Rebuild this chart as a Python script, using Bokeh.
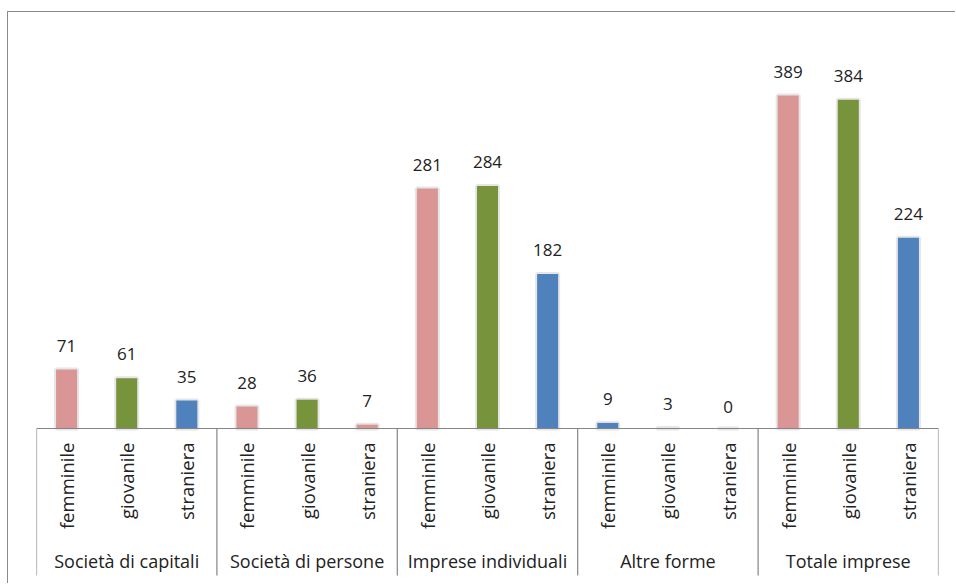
import math
from bokeh.plotting import figure
from bokeh.models import FactorRange, Range1d, Span, ColumnDataSource
from bokeh.core.properties import value
from bokeh.embed import file_html
from bokeh.resources import INLINE

# ---- data ----
groups = ["Società di capitali", "Società di persone", "Imprese individuali", "Altre forme", "Totale imprese"]
subs = ["femminile", "giovanile", "straniera"]
values_femminile = [71, 28, 281, 9, 389]
values_giovanile = [61, 36, 284, 3, 384]
values_straniera = [35, 7, 182, 0, 224]
bar_colors = [
    "#D99694", "#77933C", "#4F81BD",
    "#D99694", "#77933C", "#D99694",
    "#D99694", "#77933C", "#4F81BD",
    "#4F81BD", "#77933C", "#4F81BD",
    "#D99694", "#77933C", "#4F81BD",
]

# value axis (hidden): baseline value and pixel scale
Y0 = 2.55
K = 0.8616  # px per unit

factors = [(g, s) for g in groups for s in subs]
vals = []
for i in range(len(groups)):
    vals += [values_femminile[i], values_giovanile[i], values_straniera[i]]
tops = [max(v, Y0) for v in vals]

src = ColumnDataSource(dict(x=factors, v=vals, top=tops, color=bar_colors,
                            lab=[str(v) for v in vals], sub=[f[1] for f in factors]))

W, H = 948, 572
frame_top_px = 12
frame_bot_px = 584
base_px = 428
y_start = Y0 - (frame_bot_px - base_px) / K
y_end = Y0 + (base_px - frame_top_px) / K

p = figure(x_range=FactorRange(*factors, group_padding=0, factor_padding=0, range_padding=0),
           y_range=Range1d(y_start, y_end),
           width=W, height=H, output_backend="svg", toolbar_location=None,
           min_border_left=28, min_border_right=18, min_border_top=0, min_border_bottom=0)
p.styles = {"margin-left": "7px", "margin-top": "11px",
            "border-left": "1px solid #8a8a8a", "border-top": "1px solid #8a8a8a"}
p.axis.visible = False
p.grid.visible = False
p.outline_line_color = None
p.background_fill_color = "white"
p.border_fill_color = "white"

BW = 0.35
# soft shadow
p.vbar(x="x", top="top", bottom=Y0, width=BW, source=src, fill_color=None,
       line_color="#e6e6e6", line_width=4)
p.vbar(x="x", top="top", bottom=Y0, width=BW, source=src, fill_color="color",
       line_color=None)

# data labels
p.text(x="x", y="v", text="lab", source=src, text_align="center", text_baseline="middle",
       y_offset=-24, text_font=value("Open Sans"), text_font_size="17px", text_color="#222222")

# axis line
p.add_layout(Span(location=Y0, dimension="width", line_color="#858585", line_width=1.2))

# group separators
n = len(subs)
bounds = [n * i for i in range(len(groups) + 1)]
p.segment(x0=bounds, x1=bounds, y0=[Y0] * len(bounds), y1=[Y0 - 147 / K] * len(bounds),
          line_color="#858585", line_width=1.2)

# subcategory labels (vertical)
p.text(x="x", y=Y0, text="sub", source=src, angle=math.pi / 2, text_align="right",
       text_baseline="middle", y_offset=14, text_font=value("Open Sans"),
       text_font_size="18.5px", text_color="#222222")

# group labels
gx = [n * i + n / 2 for i in range(len(groups))]
p.text(x=gx, y=[Y0] * len(groups), text=groups, text_align="center", text_baseline="middle",
       y_offset=132, text_font=value("Open Sans"), text_font_size="18px", text_color="#222222")

open("out.html", "w").write(file_html(p, INLINE))
